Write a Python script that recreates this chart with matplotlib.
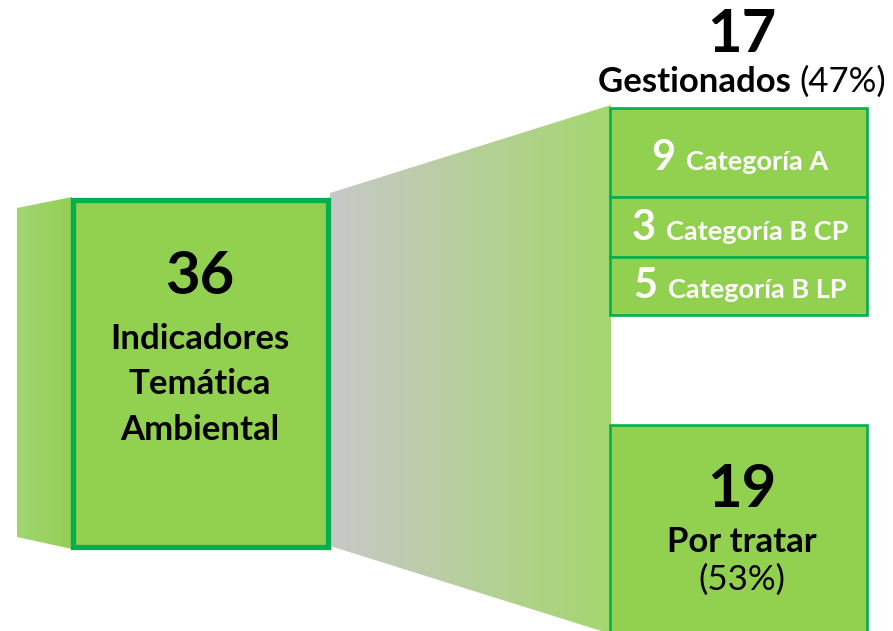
import matplotlib
matplotlib.use("Agg")
import matplotlib.pyplot as plt
import numpy as np
from matplotlib.patches import Polygon, Rectangle
from matplotlib.colors import LinearSegmentedColormap

# ---- data ----
total = 36
total_label = ["Indicadores", "Temática", "Ambiental"]
managed = 17
managed_label = "Gestionados"
pending = 19
pending_label = "Por tratar"
categories = ["Categoría A", "Categoría B CP", "Categoría B LP"]
category_values = [9, 3, 5]

managed_pct = round(managed / total * 100)
pending_pct = round(pending / total * 100)

FONT = "Lato"
BOX = "#92d050"
EDGE = "#00b050"

fig = plt.figure(figsize=(8.93, 6.31), dpi=100)
ax = fig.add_axes([0, 0, 1, 1])
ax.axis("off")


def grad_poly(verts, c0, c1, zorder=1):
    poly = Polygon(verts, closed=True, facecolor="none", edgecolor="none")
    ax.add_patch(poly)
    xs = [v[0] for v in verts]
    ys = [v[1] for v in verts]
    cmap = LinearSegmentedColormap.from_list("g", [c0, c1])
    grad = np.linspace(0, 1, 256).reshape(1, -1)
    im = ax.imshow(grad, cmap=cmap, extent=(min(xs), max(xs), max(ys), min(ys)),
                   aspect="auto", zorder=zorder, interpolation="bilinear")
    im.set_clip_path(poly)


# side wing and funnel
grad_poly([(17, 208), (72, 197), (72, 549), (17, 537)], "#a2d572", "#93d052", 1)
grad_poly([(330, 193), (611, 105), (611, 634), (330, 546)], "#c8c8c8", "#a4d76e", 1)

# main box
ax.add_patch(Rectangle((72.5, 199.5), 255, 347, facecolor=BOX, edgecolor=EDGE,
                       lw=3.8, zorder=3))

# right boxes
X0, W = 609.5, 257
row_tops = [108, 197, 257]
row_bottoms = [197, 257, 315]
for t, b in zip(row_tops, row_bottoms):
    ax.add_patch(Rectangle((X0, t), W, b - t, facecolor=BOX, edgecolor=EDGE,
                           lw=1.9, zorder=3))
ax.add_patch(Rectangle((X0, 425), W, 230, facecolor=BOX, edgecolor=EDGE,
                       lw=1.9, zorder=3))

ax.set_xlim(0, 893)
ax.set_ylim(631, 0)

# main box texts
ax.text(200, 277, str(total), fontsize=43, fontweight="bold", family=FONT,
        ha="center", va="center", zorder=5)
for i, line in enumerate(total_label):
    ax.text(200, 339 + i * 45.5, line, fontsize=25, fontweight="bold", family=FONT,
            ha="center", va="center", zorder=5)

# top label
ax.text(742, 35, str(managed), fontsize=43, fontweight="bold", family=FONT,
        ha="center", va="center", zorder=5)

fig.canvas.draw()
renderer = fig.canvas.get_renderer()


def mixed(cx, cy, parts):
    texts = []
    widths = []
    for s, kw in parts:
        t = ax.text(0, cy, s, ha="left", va="baseline", zorder=5, family=FONT, **kw)
        bb = t.get_window_extent(renderer)
        texts.append(t)
        widths.append(bb.width)
    total_w = sum(widths)
    x0 = cx - total_w / 2
    for t, w in zip(texts, widths):
        t.set_x(x0)
        x0 += w


mixed(742, 92, [(managed_label + " ", dict(fontsize=25, fontweight="bold")),
                (f"({managed_pct}%)", dict(fontsize=25))])

row_baselines = [170, 240, 298]
for v, c, yb in zip(category_values, categories, row_baselines):
    mixed(740, yb, [(f"{v} ", dict(fontsize=30, fontweight="bold", color="white")),
                    (c, dict(fontsize=19.5, fontweight="bold", color="white"))])

# bottom box
ax.text(742, 490, str(pending), fontsize=43, fontweight="bold", family=FONT,
        ha="center", va="center", zorder=5)
ax.text(742, 542, pending_label, fontsize=25, fontweight="bold", family=FONT,
        ha="center", va="center", zorder=5)
ax.text(742, 580, f"({pending_pct}%)", fontsize=25, family=FONT,
        ha="center", va="center", zorder=5)

fig.savefig("out.png", dpi=100)
